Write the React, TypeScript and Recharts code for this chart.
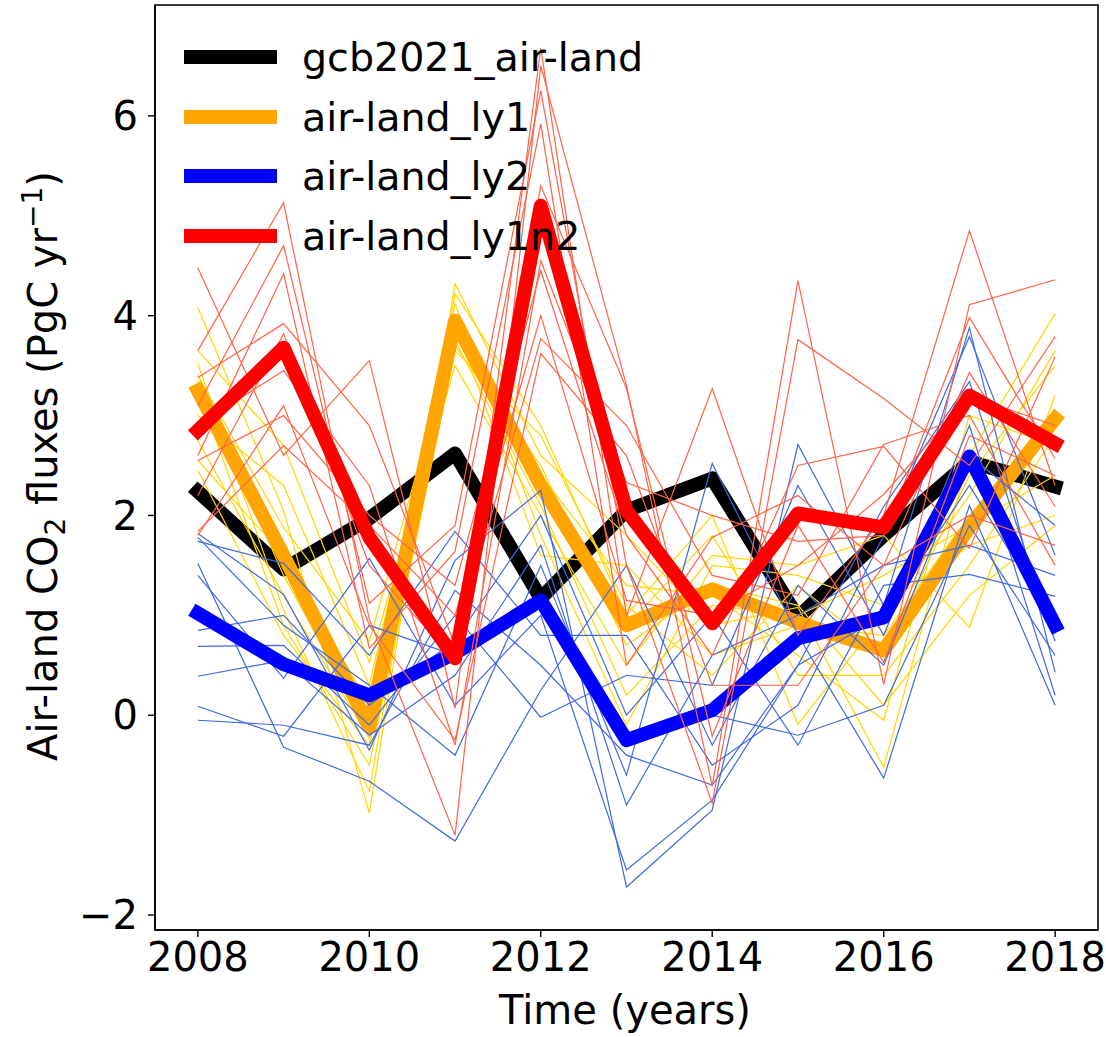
import { LineChart, Line, XAxis, YAxis, ReferenceArea, Legend } from 'recharts';

const FONT = '"DejaVu Sans", sans-serif';

const YEARS = [2008, 2009, 2010, 2011, 2012, 2013, 2014, 2015, 2016, 2017, 2018];
const X_TICKS = [2008, 2010, 2012, 2014, 2016, 2018];
const Y_TICKS = [-2, 0, 2, 4, 6];

// ensemble means (thick lines)
const GCB = [2.24, 1.46, 1.97, 2.62, 1.17, 2.05, 2.37, 0.98, 1.8, 2.54, 2.29];
const LY1 = [3.25, 1.6, -0.12, 3.95, 2.3, 0.9, 1.26, 0.93, 0.65, 1.88, 2.97];
const LY2 = [1.02, 0.51, 0.2, 0.62, 1.15, -0.25, 0.05, 0.77, 0.98, 2.59, 0.9];
const LY1N2 = [2.85, 3.68, 1.78, 0.57, 5.1, 2.05, 0.92, 2.02, 1.88, 3.2, 2.72];

// individual members (thin lines)
const LY1_MEMBERS = [
  [4.08, 2.05, -0.98, 4.32, 2.6, 1.8, 0.9, 1.08, -0.52, 2.6, 4.02],
  [3.65, 2.7, 0.53, 3.5, 2.0, 0.5, 1.6, 1.5, 1.8, 0.88, 3.2],
  [3.52, 1.05, -0.76, 4.22, 2.9, 1.0, 2.0, -0.09, 1.0, 2.2, 3.65],
  [3.4, 1.88, 0.74, 3.8, 2.4, 1.3, 1.2, 0.6, -0.05, 3.0, 2.7],
  [3.35, 1.4, -0.16, 4.12, 1.8, -0.1, 1.5, 1.4, 1.1, 1.7, 2.0],
  [3.25, 0.9, -0.5, 3.65, 2.8, 1.1, 0.4, 1.3, 0.6, 2.4, 3.5],
  [3.0, 2.3, 0.3, 4.0, 2.3, 0.9, 1.8, 0.4, 0.4, 1.5, 2.8],
  [2.75, 1.2, -0.23, 3.75, 2.1, 0.2, 1.1, 1.0, 1.4, 1.9, 2.4],
  [2.55, 1.6, 0.1, 3.9, 1.6, 1.5, 0.6, 0.9, 0.8, 2.0, 3.0],
  [2.45, 0.8, -0.3, 3.7, 2.5, 0.7, 1.3, 1.1, 0.1, 1.2, 1.9],
];

const LY2_MEMBERS = [
  [1.82, 1.21, -0.35, 1.55, 2.25, -1.72, -0.95, 2.71, 1.1, 3.88, 0.43],
  [1.78, 0.9, 0.3, -0.4, 1.5, -0.6, 2.52, 0.8, -0.63, 2.1, 0.1],
  [1.74, 1.52, 0.6, 1.84, 0.8, 0.8, -0.5, 0.1, 1.8, 3.79, 1.6],
  [1.52, -0.32, -0.66, -1.26, 0.25, 1.5, -0.3, 1.3, 0.5, 2.6, 1.9],
  [1.4, 0.37, 1.57, 0.1, 1.0, -1.55, -0.85, 0.5, 2.09, 3.34, 0.74],
  [0.85, 1.0, 0.1, 0.75, 2.0, 0.0, 1.0, -0.3, 1.3, 1.41, 1.19],
  [0.69, 0.7, -0.1, 1.0, -0.02, 0.4, 0.3, 2.3, 0.8, 2.9, 0.2],
  [0.39, 0.55, -0.2, 0.4, 1.7, -0.9, 0.6, 1.0, 1.5, 1.7, 1.4],
  [0.09, -0.21, 0.9, 0.6, 1.2, -0.3, 0.0, -0.2, 0.1, 1.9, 0.6],
  [-0.05, -0.1, -0.3, 1.25, 0.5, -0.4, -0.7, 0.5, 1.0, 2.3, 0.9],
];

const LY1N2_MEMBERS = [
  [4.48, 2.6, 3.55, 0.07, 6.68, 1.0, 3.27, 0.8, 2.0, 4.85, 2.3],
  [3.65, 5.13, 0.96, -1.2, 6.5, 3.3, -0.71, 4.35, 0.31, 4.11, 4.36],
  [3.38, 3.92, 2.9, 0.7, 3.77, 2.9, 1.4, 1.2, 2.71, 3.0, 1.5],
  [3.1, 4.7, 1.12, 1.9, 6.25, 1.5, -0.88, 3.76, 3.17, 2.5, 3.79],
  [2.9, 3.45, 2.3, -0.3, 4.55, 2.33, 2.0, 1.74, 1.8, 3.98, 2.57],
  [2.6, 4.42, 0.67, 1.64, 5.92, 0.5, 1.78, 2.2, 1.5, 3.43, 2.09],
  [2.55, 3.0, 2.0, 1.3, 4.45, 1.8, 0.6, 2.5, 2.69, 1.67, 3.59],
  [2.2, 3.82, 1.5, 0.55, 5.3, 3.27, -0.21, 1.9, 0.53, 2.8, 2.4],
  [1.84, 2.7, 1.9, 1.0, 4.0, 1.15, 1.0, 1.5, 2.21, 3.2, 2.9],
  [1.8, 3.1, 0.9, -0.25, 3.62, 2.6, 0.3, 0.3, 1.5, 2.0, 1.7],
];

const SERIES = [
  { key: 'gcb', name: 'gcb2021_air-land', color: '#000000' },
  { key: 'ly1', name: 'air-land_ly1', color: '#FFA500' },
  { key: 'ly2', name: 'air-land_ly2', color: '#0000FF' },
  { key: 'ly1n2', name: 'air-land_ly1n2', color: '#FF0000' },
];

const THIN_COLORS: Record<string, string> = {
  ly1: '#FFD700',
  ly2: '#4169E1',
  ly1n2: '#FF6347',
};

const MEMBERS: Record<string, number[][]> = {
  ly1: LY1_MEMBERS,
  ly2: LY2_MEMBERS,
  ly1n2: LY1N2_MEMBERS,
};

const data = YEARS.map((year, i) => {
  const row: Record<string, number> = {
    year,
    gcb: GCB[i],
    ly1: LY1[i],
    ly2: LY2[i],
    ly1n2: LY1N2[i],
  };
  Object.keys(MEMBERS).forEach((k) => {
    MEMBERS[k].forEach((m, j) => {
      row[`${k}_${j}`] = m[i];
    });
  });
  return row;
});

const fmt = (v: number) => (v < 0 ? `\u2212${Math.abs(v)}` : `${v}`);

const renderLegend = () => (
  <div style={{ fontFamily: FONT, fontSize: 39.6, color: '#000' }}>
    {SERIES.map((s) => (
      <div key={s.key} style={{ display: 'flex', alignItems: 'center', height: 59.7 }}>
        <div style={{ width: 93, height: 14, background: s.color, marginLeft: 184, marginRight: 25 }} />
        <span style={{ whiteSpace: 'nowrap' }}>{s.name}</span>
      </div>
    ))}
  </div>
);

const thickLine = (key: string, color: string) => (
  <Line
    key={key}
    type="linear"
    dataKey={key}
    stroke={color}
    strokeWidth={14}
    strokeLinejoin="round"
    strokeLinecap="square"
    dot={false}
    activeDot={false}
    legendType="none"
    isAnimationActive={false}
  />
);

const thinLines = (key: string) =>
  MEMBERS[key].map((_, j) => (
    <Line
      key={`${key}_${j}`}
      type="linear"
      dataKey={`${key}_${j}`}
      stroke={THIN_COLORS[key]}
      strokeWidth={1.2}
      dot={false}
      activeDot={false}
      legendType="none"
      isAnimationActive={false}
    />
  ));

export default function App() {
  return (
    <div style={{ position: 'absolute', left: 0, top: 0, background: '#fff' }}>
      <LineChart width={1106} height={1037} data={data} margin={{ top: 5, right: 8, bottom: 0, left: 0 }}>
        <XAxis
          dataKey="year"
          type="number"
          domain={[2007.5, 2018.5]}
          ticks={X_TICKS}
          allowDataOverflow
          height={107}
          axisLine={{ stroke: '#000', strokeWidth: 1.6 }}
          tickLine={{ stroke: '#000', strokeWidth: 1.4 }}
          tickSize={7}
          tickMargin={6}
          tick={{ fill: '#000', fontSize: 40, fontFamily: FONT }}
          label={{
            content: () => (
              <text x={625} y={1024} textAnchor="middle" fontFamily={FONT} fontSize={40} fill="#000">
                Time (years)
              </text>
            ),
          }}
        />
        <YAxis
          type="number"
          domain={[-2.15, 7.11]}
          ticks={Y_TICKS}
          allowDataOverflow
          width={155}
          tickFormatter={fmt}
          axisLine={{ stroke: '#000', strokeWidth: 1.6 }}
          tickLine={{ stroke: '#000', strokeWidth: 1.4 }}
          tickSize={7}
          tickMargin={10}
          tick={{ fill: '#000', fontSize: 40, fontFamily: FONT }}
          label={{
            content: () => (
              <text
                x={57}
                y={466}
                transform="rotate(-90, 57, 466)"
                textAnchor="middle"
                fontFamily={FONT}
                fontSize={40}
                fill="#000"
              >
                Air-land CO
                <tspan dy={8} fontSize={28}>2</tspan>
                <tspan dy={-8}> fluxes (PgC yr</tspan>
                <tspan dy={-15} fontSize={28}>{'\u22121'}</tspan>
                <tspan dy={15}>)</tspan>
              </text>
            ),
          }}
        />
        {thickLine('gcb', '#000000')}
        {thinLines('ly1')}
        {thickLine('ly1', '#FFA500')}
        {thinLines('ly2')}
        {thickLine('ly2', '#0000FF')}
        {thinLines('ly1n2')}
        {thickLine('ly1n2', '#FF0000')}
        <ReferenceArea
          x1={2007.5}
          x2={2018.5}
          y1={-2.15}
          y2={7.11}
          fill="none"
          fillOpacity={0}
          stroke="#000"
          strokeWidth={1.6}
          ifOverflow="visible"
        />
        <Legend
          layout="vertical"
          align="center"
          verticalAlign="middle"
          content={renderLegend}
          wrapperStyle={{ left: 0, top: 27, width: 720, height: 240 }}
        />
      </LineChart>
    </div>
  );
}
